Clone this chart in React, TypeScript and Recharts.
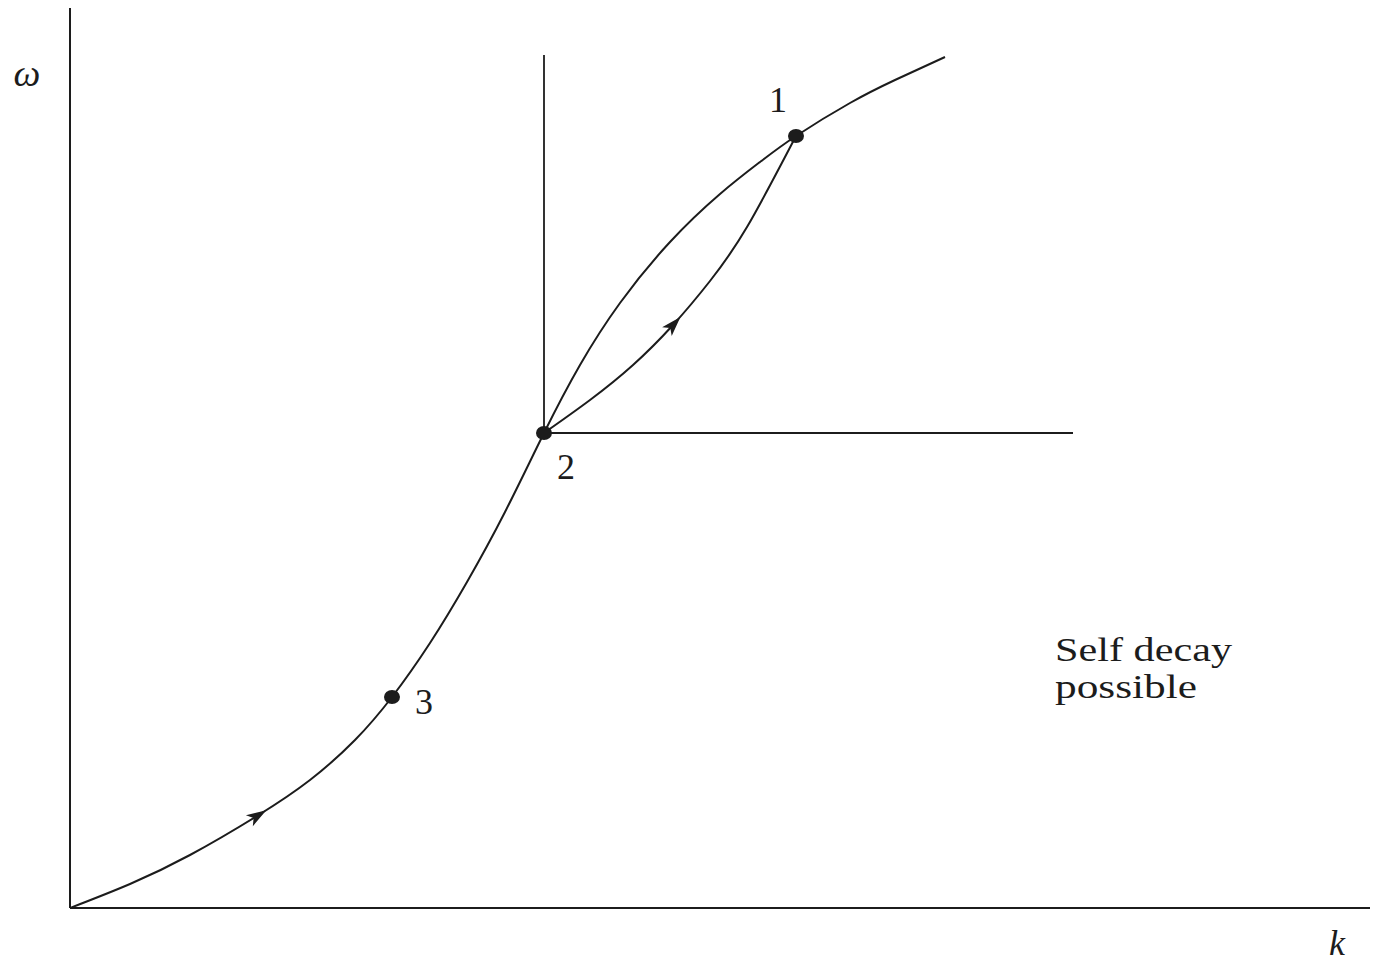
import { LineChart, Line, XAxis, YAxis, ReferenceLine, ReferenceDot } from 'recharts'

// dispersion curve omega(k)
const kCurve = [0, 0.6, 1.2, 1.87, 2.4, 2.85, 3.22, 3.6, 3.97, 4.35, 4.74, 5.1, 5.5, 6.0, 6.5, 6.9, 7.26, 7.8, 8.25, 8.75]
const wCurve = [0, 0.24, 0.53, 0.92, 1.28, 1.68, 2.11, 2.65, 3.26, 3.96, 4.75, 5.43, 6.05, 6.66, 7.14, 7.46, 7.72, 8.05, 8.28, 8.51]

// decay path from 2 back up to 1
const kArc = [4.74, 5.2, 5.63, 6.03, 6.4, 6.77, 7.26]
const wArc = [4.75, 5.08, 5.43, 5.83, 6.27, 6.81, 7.72]

// labelled points, as indices into the curve
const pointNames = ['1', '2', '3']
const pointIdx = [16, 10, 6]

const curveArrowIdx = 3
const arcArrowIdx = 3

// shifted axes through point 2
const shiftedTop = 8.53
const shiftedRight = 10.03

const noteLines = ['Self decay', 'possible']
const noteK = 9.85
const noteW = 2.47

const INK = '#1c1c1c'
const SERIF = '"Liberation Serif", "DejaVu Serif", serif'

const curveData = kCurve.map((k, i) => ({ k, w: wCurve[i] }))
const arcData = kArc.map((k, i) => ({ k, w: wArc[i] }))

interface DotProps {
  cx: number
  cy: number
  index: number
  [key: string]: unknown
}

// x and y both run at 100px per unit, so data slopes give the screen heading
function arrowDot(data: { k: number; w: number }[], at: number) {
  return (props: DotProps) => {
    if (props.index !== at) return <g key={props.index} />
    const a = data[at - 1]
    const b = data[at + 1]
    const ang = (Math.atan2(-(b.w - a.w), b.k - a.k) * 180) / Math.PI
    return (
      <path
        key={props.index}
        d="M 11 0 L -9 -6.5 L -4 0 L -9 6.5 Z"
        fill={INK}
        transform={`translate(${props.cx},${props.cy}) rotate(${ang})`}
      />
    )
  }
}

const labelOffset: Record<string, [number, number]> = {
  '1': [-18, -24],
  '2': [22, 46],
  '3': [32, 17],
}

export default function App() {
  const p2 = pointIdx[1]
  const origin = { x: kCurve[p2], y: wCurve[p2] }

  return (
    <div style={{ position: 'absolute', left: 0, top: 0, background: '#fff' }}>
      <LineChart
        width={1373}
        height={963}
        margin={{ top: 8, right: 3, bottom: 55, left: 70 }}
      >
        <XAxis type="number" dataKey="k" domain={[0, 13]} allowDataOverflow hide />
        <YAxis type="number" dataKey="w" domain={[0, 9]} allowDataOverflow hide />

        {/* main axes */}
        <ReferenceLine
          x={0}
          stroke={INK}
          strokeWidth={2}
          label={{
            content: (p: any) => {
              const vb = p.viewBox || { x: 70, y: 8 }
              return (
                <text
                  x={vb.x - 43}
                  y={vb.y + 78}
                  textAnchor="middle"
                  fontFamily={SERIF}
                  fontStyle="italic"
                  fontSize={38}
                  fill={INK}
                >
                  ω
                </text>
              )
            },
          }}
        />
        <ReferenceLine
          y={0}
          stroke={INK}
          strokeWidth={2}
          label={{
            content: (p: any) => {
              const vb = p.viewBox || { x: 70, y: 908, width: 1300 }
              return (
                <text
                  x={vb.x + vb.width - 33}
                  y={vb.y + 47}
                  textAnchor="middle"
                  fontFamily={SERIF}
                  fontStyle="italic"
                  fontSize={36}
                  fill={INK}
                >
                  k
                </text>
              )
            },
          }}
        />

        {/* shifted axes */}
        <ReferenceLine
          segment={[origin, { x: origin.x, y: shiftedTop }]}
          stroke={INK}
          strokeWidth={1.8}
        />
        <ReferenceLine
          segment={[origin, { x: shiftedRight, y: origin.y }]}
          stroke={INK}
          strokeWidth={1.8}
        />

        <Line
          data={curveData}
          dataKey="w"
          type="natural"
          stroke={INK}
          strokeWidth={2}
          dot={arrowDot(curveData, curveArrowIdx)}
          activeDot={false}
          isAnimationActive={false}
        />
        <Line
          data={arcData}
          dataKey="w"
          type="natural"
          stroke={INK}
          strokeWidth={2}
          dot={arrowDot(arcData, arcArrowIdx)}
          activeDot={false}
          isAnimationActive={false}
        />

        {pointIdx.map((idx, i) => {
          const name = pointNames[i]
          const [dx, dy] = labelOffset[name]
          return (
            <ReferenceDot
              key={name}
              x={kCurve[idx]}
              y={wCurve[idx]}
              shape={(p: any) => (
                <g>
                  <ellipse cx={p.cx} cy={p.cy} rx={8} ry={7} fill={INK} />
                  <text
                    x={p.cx + dx}
                    y={p.cy + dy}
                    textAnchor="middle"
                    fontFamily={SERIF}
                    fontSize={36}
                    fill={INK}
                  >
                    {name}
                  </text>
                </g>
              )}
            />
          )
        })}

        <ReferenceDot
          x={noteK}
          y={noteW}
          shape={(p: any) => (
            <g>
              {noteLines.map((line, i) => (
                <text
                  key={line}
                  x={p.cx}
                  y={p.cy + i * 37}
                  fontFamily={SERIF}
                  fontSize={34}
                  fill={INK}
                  textLength={i === 0 ? 177 : 142}
                  lengthAdjust="spacingAndGlyphs"
                >
                  {line}
                </text>
              ))}
            </g>
          )}
        />
      </LineChart>
    </div>
  )
}
